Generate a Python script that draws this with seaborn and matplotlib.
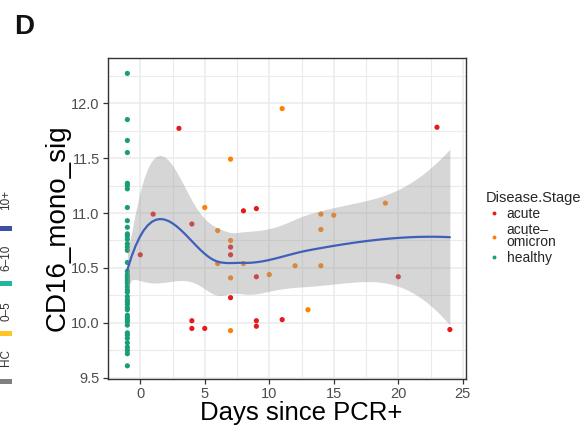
import numpy as np
import pandas as pd
import matplotlib
matplotlib.use("Agg")
import matplotlib.pyplot as plt
import seaborn as sns
from matplotlib.patches import Rectangle

# ---------------- data ----------------
healthy_vals = [12.27, 11.85, 11.66, 11.55, 11.27, 11.25, 11.22, 11.05, 10.93, 10.87,
                10.81, 10.79, 10.76, 10.72, 10.69, 10.66, 10.55, 10.47, 10.44, 10.42,
                10.40, 10.38, 10.36, 10.33, 10.30, 10.28, 10.24, 10.21, 10.19, 10.17,
                10.14, 10.12, 10.07, 10.05, 10.03, 10.01, 9.98, 9.91, 9.89, 9.86,
                9.82, 9.78, 9.75, 9.72, 9.61]
healthy_day = -1

acute_days = [3, 1, 8, 9, 4, 7, 7, 0, 9, 7, 4, 4, 5, 9, 9, 11, 23, 20, 24]
acute_vals = [11.77, 10.99, 11.02, 11.04, 10.90, 10.69, 10.62, 10.62, 10.42, 10.23,
              10.02, 9.95, 9.95, 10.02, 9.97, 10.03, 11.78, 10.42, 9.94]

omicron_days = [11, 7, 5, 6, 7, 6, 8, 12, 10, 7, 7, 19, 14, 15, 14, 14, 13]
omicron_vals = [11.95, 11.49, 11.05, 10.84, 10.75, 10.54, 10.54, 10.52, 10.44, 10.41,
                9.93, 11.09, 10.99, 10.98, 10.85, 10.52, 10.12]

stages = ["acute", "acute-omicron", "healthy"]
stage_labels = ["acute", "acute\u2013\nomicron", "healthy"]
stage_colors = ["#E41A1C", "#FF7F00", "#1B9E77"]

strip_labels = ["HC", "0\u20135", "6\u201310", "10+"]
strip_colors = ["#7F7F7F", "#FFC425", "#22B5A0", "#3F4FA8"]

x_ticks = [0, 5, 10, 15, 20, 25]
y_ticks = [9.5, 10.0, 10.5, 11.0, 11.5, 12.0]

df = pd.DataFrame({
    "day": acute_days + omicron_days + [healthy_day] * len(healthy_vals),
    "value": acute_vals + omicron_vals + healthy_vals,
    "stage": ["acute"] * len(acute_days) + ["acute-omicron"] * len(omicron_days)
             + ["healthy"] * len(healthy_vals),
})


# ---------------- loess (degree 2, span 0.75, kd-tree + Hermite interpolation) --------
def loess(x, y, xg, span=0.75, cell=0.2):
    order = np.argsort(x, kind="stable")
    x = np.asarray(x, float)[order]
    y = np.asarray(y, float)[order]
    n = len(x)
    q = int(np.floor(n * span))
    fc = int(np.floor(n * span * cell))

    def local_ops(x0):
        d = np.abs(x - x0)
        h = np.sort(d)[q - 1] * 1.0000001
        w = np.clip(1 - (d / h) ** 3, 0, None) ** 3
        X = np.column_stack([np.ones(n), x - x0, (x - x0) ** 2])
        XtW = X.T * w
        B = np.linalg.solve(XtW @ X, XtW)
        return B[0], B[1]

    # kd tree (1-D)
    mu = 0.005 * (x.max() - x.min())
    verts = {x.min() - mu, x.max() + mu}
    stack = [(0, n - 1, x.min() - mu, x.max() + mu)]
    while stack:
        l, u, vlo, vhi = stack.pop()
        if (u - l + 1) <= fc:
            continue
        m = (l + u) // 2
        offset = 0
        while l <= m + offset < u:
            if x[m + offset] == x[m + offset + 1]:
                offset = -offset
                if offset >= 0:
                    offset += 1
            else:
                m = m + offset
                break
        sv = x[m]
        if sv == vlo or sv == vhi:
            continue
        verts.add(sv)
        stack.append((l, m, vlo, sv))
        stack.append((m + 1, u, sv, vhi))
    verts = np.array(sorted(verts))
    ops = [local_ops(v) for v in verts]

    def interp_row(x0):
        k = np.searchsorted(verts, x0, side="right") - 1
        k = min(max(k, 0), len(verts) - 2)
        a, b = verts[k], verts[k + 1]
        h = b - a
        t = (x0 - a) / h
        h00 = 2 * t ** 3 - 3 * t ** 2 + 1
        h10 = t ** 3 - 2 * t ** 2 + t
        h01 = -2 * t ** 3 + 3 * t ** 2
        h11 = t ** 3 - t ** 2
        return (h00 * ops[k][0] + h10 * h * ops[k][1]
                + h01 * ops[k + 1][0] + h11 * h * ops[k + 1][1])

    L = np.array([interp_row(xi) for xi in x])
    res = y - L @ y
    M = np.eye(n) - L
    MtM = M.T @ M
    d1 = np.trace(MtM)
    d2 = np.trace(MtM @ MtM)
    sigma = np.sqrt(np.sum(res ** 2) / d1)
    dfree = d1 ** 2 / d2
    z = 1.959964
    t = z + (z ** 3 + z) / (4 * dfree) + (5 * z ** 5 + 16 * z ** 3 + 3 * z) / (96 * dfree ** 2)
    Lg = np.array([interp_row(x0) for x0 in xg])
    fit = Lg @ y
    se = sigma * np.sqrt(np.sum(Lg ** 2, axis=1))
    return fit, fit - t * se, fit + t * se


xg = np.linspace(df["day"].min(), df["day"].max(), 80)
fit, lo, hi = loess(df["day"].values, df["value"].values, xg)

# ---------------- plot ----------------
sns.set_theme(style="white")
plt.rcParams["font.family"] = ["Liberation Sans", "DejaVu Sans"]

W, H = 587, 434
fig = plt.figure(figsize=(W / 100, H / 100), dpi=100)
ax = fig.add_axes([108 / W, 1 - 379 / H, (466 - 108) / W, (379 - 58) / H])

sns.scatterplot(data=df, x="day", y="value", hue="stage", hue_order=stages,
                palette=stage_colors, s=14, linewidth=0, ax=ax, zorder=2)
ax.fill_between(xg, lo, hi, color="#999999", alpha=0.4, lw=0, zorder=3)
ax.plot(xg, fit, color="#3F5FBA", lw=1.6, zorder=4)

ax.set_xlim(-2.25, 25.25)
ax.set_ylim(9.49, 12.41)
ax.set_xticks(x_ticks)
ax.set_yticks(y_ticks)
ax.set_xticklabels([str(v) for v in x_ticks])
ax.set_yticklabels([f"{v:.1f}" for v in y_ticks])
ax.set_xticks([-2.5, 2.5, 7.5, 12.5, 17.5, 22.5], minor=True)
ax.set_yticks([9.75, 10.25, 10.75, 11.25, 11.75, 12.25], minor=True)
ax.grid(which="major", color="#EBEBEB", lw=1.1, zorder=0)
ax.grid(which="minor", color="#EBEBEB", lw=0.8, zorder=0)
ax.set_axisbelow(True)
ax.tick_params(axis="both", which="major", direction="out", length=3.5, width=0.9,
               color="#333333", labelsize=10.5, labelcolor="#4D4D4D",
               bottom=True, left=True, pad=2.5)
ax.tick_params(axis="both", which="minor", length=0)
for sp in ax.spines.values():
    sp.set_color("#333333")
    sp.set_linewidth(1.0)

ax.set_xlabel("Days since PCR+", fontsize=18.5, color="black")
ax.set_ylabel("CD16_mono_sig", fontsize=20, color="black")
ax.xaxis.set_label_coords(0.54, -0.068)
ax.yaxis.set_label_coords(-0.105, 0.47)

handles, _ = ax.get_legend_handles_labels()
leg = ax.legend(handles, stage_labels, title="Disease.Stage", loc="upper left",
                bbox_to_anchor=(1.055, 0.585), frameon=False, borderaxespad=0,
                borderpad=0, fontsize=10, title_fontsize=10.5, handletextpad=0.3,
                labelspacing=0.15, markerscale=0.75, handlelength=1.2,
                alignment="left")
for txt in leg.get_texts():
    txt.set_linespacing(0.75)

# panel letter
fig.text(14 / W, 1 - 34 / H, "D", fontsize=20, fontweight="bold", color="#111111")

# strip from neighbouring panel's legend
strip_bar_y = [381, 333, 283, 228]
strip_txt_y = [357, 311, 258, 200]
for lab, col, by, ty in zip(strip_labels, strip_colors, strip_bar_y, strip_txt_y):
    fig.add_artist(Rectangle((0, 1 - (by + 3) / H), 12 / W, 5 / H,
                             transform=fig.transFigure, color=col, lw=0))
    fig.text(6 / W, 1 - ty / H, lab, rotation=90, ha="center", va="center",
             fontsize=8.5, color="#333333")

fig.savefig("out.png", dpi=100)
